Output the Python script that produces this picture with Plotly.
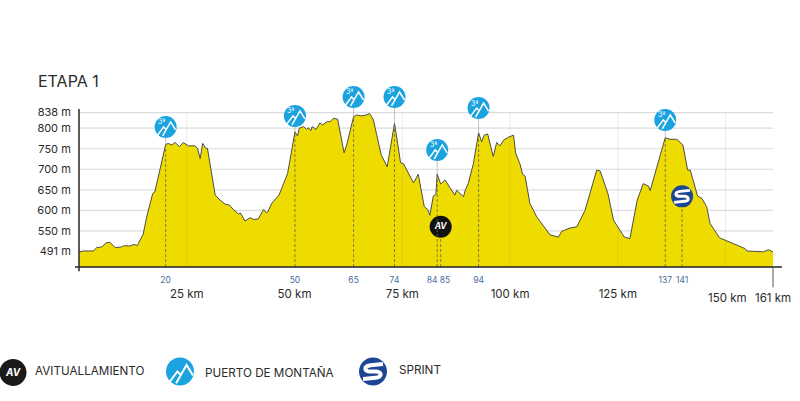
import plotly.graph_objects as go

# profile
km = [0, 1.0, 3.3, 4.1, 5.3, 6.3, 7.2, 8.4, 9.9, 10.4, 11.8, 12.8, 13.5, 14.9, 15.7, 16.5, 17.1, 17.6, 18.2, 19.2,
      20.1, 20.7, 21.5, 22.3, 23.3, 24.2, 25.4, 26.9, 27.5, 28.1, 28.7, 29.4, 29.8, 31.6, 32.7, 33.9, 34.9, 35.8,
      37.0, 37.4, 38.5, 39.7, 40.5, 41.6, 42.8, 43.5, 43.8, 44.7, 46.4, 48.4, 50.1, 50.7, 51.1, 52.1, 52.8, 53.2,
      53.8, 54.1, 55.0, 55.9, 56.5, 57.7, 58.2, 59.0, 60.0, 61.5, 62.1, 63.7, 64.4, 65.6, 66.6, 67.4, 68.3, 70.1,
      71.5, 73.2, 74.6, 75.3, 77.6, 78.7, 80.1, 80.9, 81.4, 82.2, 82.8, 83.1, 83.9, 84.9, 87.2, 87.6, 89.2, 89.6,
      90.3, 91.5, 92.7, 93.4, 94.0, 94.8, 96.1, 96.9, 97.7, 98.5, 99.6, 100.8, 101.3, 102.3, 102.9, 103.5, 104.6,
      106.2, 107.7, 109.3, 111.2, 112.0, 113.9, 115.5, 117.4, 119.0, 120.1, 120.9, 122.7, 124.0, 126.5, 127.8,
      129.5, 130.9, 132.1, 132.5, 133.6, 136.0, 137.1, 138.7, 140.1, 141.2, 141.8, 143.5, 144.5, 145.6, 146.4,
      148.6, 151.8, 154.5, 154.9, 158.0, 158.8, 159.9, 161]
elev = [499, 501, 501, 509, 511, 521, 522, 509, 511, 514, 513, 517, 514, 542, 584, 621, 641, 645, 674, 718,
        760, 763, 759, 765, 755, 765, 757, 757, 751, 726, 763, 751, 751, 637, 625, 615, 613, 602,
        591, 594, 574, 582, 578, 579, 602, 594, 596, 617, 637, 690, 791, 781, 800, 804, 797, 801,
        794, 804, 797, 813, 808, 817, 815, 824, 822, 740, 759, 828, 832, 830, 832, 836, 820, 735,
        706, 812, 716, 713, 667, 688, 609, 602, 588, 635, 639, 688, 664, 674, 637, 649, 633, 649,
        665, 714, 789, 767, 783, 786, 731, 765, 757, 771, 778, 783, 739, 713, 688, 683, 617,
        584, 564, 540, 535, 549, 557, 560, 600, 657, 698, 696, 641, 576, 535, 531,
        625, 665, 659, 648, 690, 777, 773, 773, 759, 698, 698, 635, 629, 609, 568,
        533, 519, 507, 501, 500, 499, 504, 499]

y_ticks = [838, 800, 750, 700, 650, 600, 550, 500]
y_labels = ["838 m", "800 m", "750 m", "700 m", "650 m", "600 m", "550 m", "491 m"]
grid_vals = [838, 800, 750, 700, 650, 600, 550]

km_ticks = [25, 50, 75, 100, 125]
km_labels = ["25 km", "50 km", "75 km", "100 km", "125 km"]
end_ticks = [150.4, 161]
end_labels = ["150 km", "161 km"]
faint_km = [25, 75, 100, 125, 150]

# the printed km of the points sit a little off the scale on the original, 84 and 85 are pulled apart
point_pos = [20.1, 50.1, 63.7, 73.2, 81.9, 84.9, 92.7, 136.0, 139.9]
point_labels = ["20", "50", "65", "74", "84", "85", "94", "137", "141"]

climb_km = [20.1, 50.1, 63.7, 73.2, 83.1, 92.7, 136.0]
climb_base = [760, 791, 828, 812, 688, 789, 777]
climb_icon = [803, 830, 876, 876, 747, 849, 820]
av_km = 83.9
av_icon = 560
sprint_km = 139.9
sprint_icon = 634

YELLOW = "#eedc00"
BLUE = "#1ba3e0"
NAVY = "#1c4693"
DARK = "#2b2b2b"
FONT = "Inter"

MOUNTAIN = "M -8 -8 L -2 0 L 1 -3 M -3 -9 L 5 5 L 10 -3"
SPRINT = "M 8 6 L -2 5 C -8 4 -7 0 -2 0 L 2 0 C 7 0 8 -5 2 -5 L -8 -6"


def scale_path(path, k):
    out = []
    for tok in path.split():
        try:
            out.append(f"{float(tok) * k:.1f}")
        except ValueError:
            out.append(tok)
    return " ".join(out)


def glyph(path, x, y, xref="x", yref="y", width=1.5, k=1.0):
    return dict(type="path", path=scale_path(path, k), xsizemode="pixel", ysizemode="pixel",
                xanchor=x, yanchor=y, xref=xref, yref=yref, layer="above",
                line=dict(color="white", width=width), fillcolor="rgba(0,0,0,0)")


def disc(x, y, r, color):
    p = f"M {-r} 0 C {-r} {r*0.55} {-r*0.55} {r} 0 {r} C {r*0.55} {r} {r} {r*0.55} {r} 0 " \
        f"C {r} {-r*0.55} {r*0.55} {-r} 0 {-r} C {-r*0.55} {-r} {-r} {-r*0.55} {-r} 0 Z"
    return dict(type="path", path=p, xsizemode="pixel", ysizemode="pixel", xanchor=x, yanchor=y,
                xref="paper", yref="paper", layer="above", line=dict(width=0), fillcolor=color)


W, H = 800, 401
L, R, T, B = 79, 773, 80, 266.7


def px(xp):
    return (xp - L) / (R - L)


def py(yp):
    return (B - yp) / (B - T)


def label(text, x, y, size=11.7, anchor="left", color=DARK):
    return dict(text=text, xref="paper", yref="paper", x=px(x), y=py(y), xanchor=anchor, yanchor="middle",
                showarrow=False, font=dict(size=size, color=color, family=FONT))


fig = go.Figure()
fig.add_trace(go.Scatter(x=km, y=elev, mode="lines", fill="tozeroy", fillcolor=YELLOW,
                         line=dict(color="#4d4d45", width=1), hoverinfo="skip"))

# dashed drops
for k_, top in zip(climb_km, climb_base):
    fig.add_trace(go.Scatter(x=[k_, k_], y=[462, top], mode="lines", xaxis="x2",
                             line=dict(color="#66624a", width=0.8, dash="3px,2px"), hoverinfo="skip"))
for k_, top, ic in zip(climb_km, climb_base, climb_icon):
    fig.add_trace(go.Scatter(x=[k_, k_], y=[top, ic], mode="lines",
                             line=dict(color="#b5b5b5", width=0.8), hoverinfo="skip"))
for k_, ic in [(av_km, av_icon), (sprint_km, sprint_icon)]:
    fig.add_trace(go.Scatter(x=[k_, k_], y=[462, ic], mode="lines",
                             line=dict(color="#66624a", width=0.8, dash="3px,2px"), hoverinfo="skip"))

fig.add_trace(go.Scatter(x=climb_km, y=climb_icon, mode="markers",
                         marker=dict(size=22, color=BLUE), hoverinfo="skip"))
fig.add_trace(go.Scatter(x=[av_km], y=[av_icon], mode="markers+text", text=["<b><i>AV</i></b>"],
                         textposition="middle center", textfont=dict(color="white", size=8.5, family=FONT),
                         marker=dict(size=22, color="#111111"), hoverinfo="skip"))
fig.add_trace(go.Scatter(x=[sprint_km], y=[sprint_icon], mode="markers",
                         marker=dict(size=22, color=NAVY), hoverinfo="skip"))

shapes = []
for g in grid_vals:
    shapes.append(dict(type="line", xref="paper", x0=0, x1=1, yref="y", y0=g, y1=g, layer="below",
                       line=dict(color="#dcdcdc", width=1.2)))
for f in faint_km:
    shapes.append(dict(type="line", xref="x", x0=f, x1=f, yref="y", y0=462, y1=838, layer="above",
                       line=dict(color="rgba(120,120,120,0.14)", width=1)))
# axes
shapes.append(dict(type="line", xref="paper", yref="paper", x0=px(75), x1=px(782), y0=0, y1=0, layer="above",
                   line=dict(color="#222222", width=1.6)))
shapes.append(dict(type="line", xref="paper", yref="paper", x0=0, x1=0, y0=py(109), y1=py(271), layer="above",
                   line=dict(color="#333333", width=1.6)))
shapes.append(dict(type="line", xref="paper", yref="paper", x0=1, x1=1, y0=0, y1=py(287), layer="above",
                   line=dict(color="#555555", width=1)))

for k_, ic in zip(climb_km, climb_icon):
    shapes.append(glyph(MOUNTAIN, k_, ic))
shapes.append(glyph(SPRINT, sprint_km, sprint_icon, width=3))

# legend icons
shapes.append(disc(px(13), py(372), 13.5, "#1a1a1a"))
shapes.append(disc(px(180), py(371), 14, BLUE))
shapes.append(glyph(MOUNTAIN, px(180), py(371), "paper", "paper", width=2, k=1.3))
shapes.append(disc(px(373), py(371), 14, NAVY))
shapes.append(glyph(SPRINT, px(373), py(371), "paper", "paper", width=4, k=1.25))

annotations = [
    label("ETAPA 1", 36, 81, size=16),
    label("<b><i>AV</i></b>", 13, 372, size=10, anchor="center", color="white"),
    label("AVITUALLAMIENTO", 33, 371),
    label("PUERTO DE MONTAÑA", 203, 372),
    label("SPRINT", 397, 370),
]
for k_, ic in zip(climb_km, climb_icon):
    annotations.append(dict(text="3ª", x=k_, y=ic, xshift=-4, yshift=5, showarrow=False,
                            xanchor="center", yanchor="middle",
                            font=dict(size=7, color="white", family=FONT)))
for t, lab in zip(end_ticks, end_labels):
    annotations.append(dict(text=lab, x=t, xref="x", yref="paper", y=py(298), showarrow=False,
                            xanchor="center", yanchor="middle",
                            font=dict(size=11.5, color=DARK, family=FONT)))

fig.update_layout(
    width=W, height=H, autosize=False, showlegend=False,
    margin=dict(l=L, r=W - R, t=T, b=H - B, pad=0),
    plot_bgcolor="white", paper_bgcolor="white",
    shapes=shapes, annotations=annotations,
    xaxis=dict(range=[0, 161], showgrid=False, zeroline=False, showline=False, tickangle=0,
               tickvals=km_ticks, ticktext=km_labels, ticks="outside", ticklen=16, tickcolor="rgba(0,0,0,0)",
               tickfont=dict(size=11.5, color=DARK, family=FONT)),
    xaxis2=dict(range=[0, 161], overlaying="x", anchor="y", side="bottom", showgrid=False, zeroline=False,
                showline=False, tickangle=0, tickvals=point_pos, ticktext=point_labels, ticks="outside", ticklen=5,
                tickcolor="rgba(0,0,0,0)", tickfont=dict(size=8.5, color="#4c6a9e", family=FONT)),
    yaxis=dict(range=[462, 462 + (B - T) / 0.41], showgrid=False, zeroline=False, showline=False,
               tickvals=y_ticks, ticktext=y_labels, ticks="outside", ticklen=5, tickcolor="rgba(0,0,0,0)",
               tickfont=dict(size=11, color=DARK, family=FONT)),
)

# the default body margin would push the figure 8px in and cut the legend disc
fig.write_html("out.html", config={"displayModeBar": False},
               post_script="document.body.style.margin='0';document.body.style.overflow='hidden';")
